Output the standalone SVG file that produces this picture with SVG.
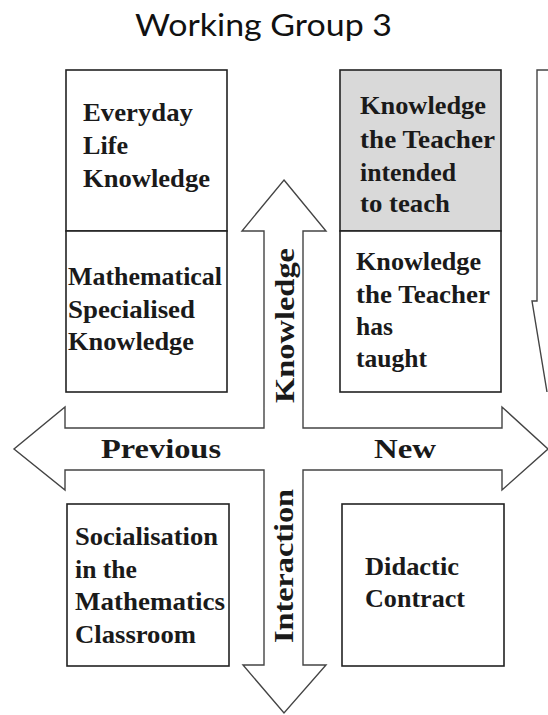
<svg xmlns="http://www.w3.org/2000/svg" width="548" height="715" viewBox="0 0 548 715">
<style>
.box{fill:#fff;stroke:#222;stroke-width:1.6}
.gray{fill:#d9d9d9}
.t{font-family:"Liberation Serif","Times New Roman",serif;font-weight:bold;font-size:25px;fill:#1a1a1a}
.big{font-size:28px}
.arrow{fill:#fff;stroke:#444;stroke-width:1.4;stroke-linejoin:miter}
.title{font-family:Lato,"Open Sans",sans-serif;font-size:30px;fill:#111}
</style>
<rect width="548" height="715" fill="#fff"/>
<text class="title" x="135" y="36" textLength="257" lengthAdjust="spacingAndGlyphs">Working Group 3</text>
<g id="connectors">
<polygon class="arrow" points="284,180 326,231 303,231 303,428 502,428 502,407 548,449 502,490 502,470 303,470 303,665 326,665 284,713 243,665 264,665 264,470 65,470 65,490 14,449 65,407 65,428 264,428 264,231 242,231"/>
<path class="arrow" d="M548,70 H537 V301 H532 L547,392"/>
<text class="t big" transform="translate(294,403) rotate(-90)" textLength="155" lengthAdjust="spacingAndGlyphs">Knowledge</text>
<text class="t big" transform="translate(293,643) rotate(-90)" textLength="154" lengthAdjust="spacingAndGlyphs">Interaction</text>
<text class="t big" x="101" y="458" textLength="120" lengthAdjust="spacingAndGlyphs">Previous</text>
<text class="t big" x="374" y="458" textLength="62" lengthAdjust="spacingAndGlyphs">New</text>
</g>
<g id="everyday">
<rect class="box" x="66" y="70" width="161" height="161"/>
<text class="t" x="83" y="121" textLength="110" lengthAdjust="spacingAndGlyphs">Everyday</text>
<text class="t" x="83" y="154" textLength="45" lengthAdjust="spacingAndGlyphs">Life</text>
<text class="t" x="83" y="187" textLength="127" lengthAdjust="spacingAndGlyphs">Knowledge</text>
</g>
<g id="mathematical">
<rect class="box" x="66" y="231" width="161" height="161"/>
<text class="t" x="68" y="285" textLength="154" lengthAdjust="spacingAndGlyphs">Mathematical</text>
<text class="t" x="68" y="318" textLength="127" lengthAdjust="spacingAndGlyphs">Specialised</text>
<text class="t" x="68" y="350" textLength="126" lengthAdjust="spacingAndGlyphs">Knowledge</text>
</g>
<g id="intended">
<rect class="box gray" x="340" y="70" width="161" height="161"/>
<text class="t" x="360" y="114" textLength="126" lengthAdjust="spacingAndGlyphs">Knowledge</text>
<text class="t" x="360" y="148" textLength="135" lengthAdjust="spacingAndGlyphs">the Teacher</text>
<text class="t" x="360" y="181" textLength="96" lengthAdjust="spacingAndGlyphs">intended</text>
<text class="t" x="360" y="212" textLength="90" lengthAdjust="spacingAndGlyphs">to teach</text>
</g>
<g id="taught">
<rect class="box" x="340" y="231" width="161" height="161"/>
<text class="t" x="356" y="270" textLength="125" lengthAdjust="spacingAndGlyphs">Knowledge</text>
<text class="t" x="356" y="303" textLength="134" lengthAdjust="spacingAndGlyphs">the Teacher</text>
<text class="t" x="356" y="335" textLength="37" lengthAdjust="spacingAndGlyphs">has</text>
<text class="t" x="356" y="367" textLength="71" lengthAdjust="spacingAndGlyphs">taught</text>
</g>
<g id="socialisation">
<rect class="box" x="67" y="504" width="162" height="162"/>
<text class="t" x="75" y="545" textLength="143" lengthAdjust="spacingAndGlyphs">Socialisation</text>
<text class="t" x="75" y="578" textLength="62" lengthAdjust="spacingAndGlyphs">in the</text>
<text class="t" x="75" y="610" textLength="150" lengthAdjust="spacingAndGlyphs">Mathematics</text>
<text class="t" x="75" y="643" textLength="121" lengthAdjust="spacingAndGlyphs">Classroom</text>
</g>
<g id="didactic">
<rect class="box" x="342" y="504" width="162" height="162"/>
<text class="t" x="365" y="575" textLength="94" lengthAdjust="spacingAndGlyphs">Didactic</text>
<text class="t" x="365" y="607" textLength="100" lengthAdjust="spacingAndGlyphs">Contract</text>
</g>
</svg>
